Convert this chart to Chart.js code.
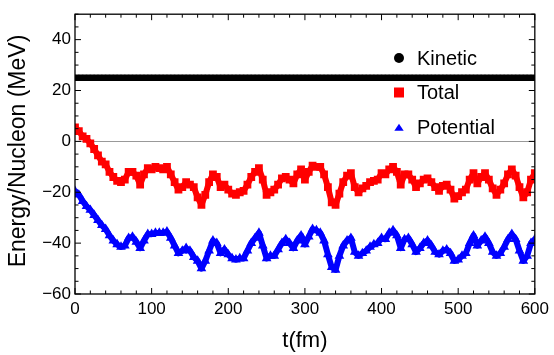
<!DOCTYPE html>
<html>
<head>
<meta charset="utf-8">
<title>Energy per nucleon vs time</title>
<script src="https://cdn.jsdelivr.net/npm/chart.js@4/dist/chart.umd.min.js"></script>
<style>
  html, body { margin: 0; padding: 0; background: #fff; }
  #wrap { width: 554px; height: 355px; }
</style>
</head>
<body>
<div id="wrap"><canvas id="chart" width="554" height="355"></canvas></div>
<script>
// time samples (fm)
const times = [
  0, 5, 10, 15, 20, 25, 30, 35, 40, 45, 50, 55, 60, 65, 70, 75, 80, 85, 90, 95,
  100, 105, 110, 115, 120, 125, 130, 135, 140, 145, 150, 155, 160, 165, 170, 175, 180, 185, 190, 195,
  200, 205, 210, 215, 220, 225, 230, 235, 240, 245, 250, 255, 260, 265, 270, 275, 280, 285, 290, 295,
  300, 305, 310, 315, 320, 325, 330, 335, 340, 345, 350, 355, 360, 365, 370, 375, 380, 385, 390, 395,
  400, 405, 410, 415, 420, 425, 430, 435, 440, 445, 450, 455, 460, 465, 470, 475, 480, 485, 490, 495,
  500, 505, 510, 515, 520, 525, 530, 535, 540, 545, 550, 555, 560, 565, 570, 575, 580, 585, 590, 595,
  600
];

// energy per nucleon (MeV)
const kinetic = [
  25, 25, 25, 25, 25, 25, 25, 25, 25, 25, 25, 25, 25, 25, 25, 25, 25, 25, 25, 25,
  25, 25, 25, 25, 25, 25, 25, 25, 25, 25, 25, 25, 25, 25, 25, 25, 25, 25, 25, 25,
  25, 25, 25, 25, 25, 25, 25, 25, 25, 25, 25, 25, 25, 25, 25, 25, 25, 25, 25, 25,
  25, 25, 25, 25, 25, 25, 25, 25, 25, 25, 25, 25, 25, 25, 25, 25, 25, 25, 25, 25,
  25, 25, 25, 25, 25, 25, 25, 25, 25, 25, 25, 25, 25, 25, 25, 25, 25, 25, 25, 25,
  25, 25, 25, 25, 25, 25, 25, 25, 25, 25, 25, 25, 25, 25, 25, 25, 25, 25, 25, 25,
  25
];

const total = [
  5.5, 4, 2, 1, -0.8, -3, -5.5, -8, -9, -12, -14, -15.5, -16, -15, -12, -12, -13.5, -17, -13, -10.5,
  -11, -10, -10.5, -11, -10, -13, -16, -19, -18, -16, -17, -18, -22, -25, -21, -16, -13, -14, -18, -17,
  -19, -20.5, -21, -20, -19.5, -17, -14, -12, -10.5, -15, -21, -20, -19, -17, -14.5, -14, -15, -16.5, -13, -11,
  -15, -12, -9.5, -10, -10, -13, -18, -24, -25, -20.5, -16, -13.5, -12.5, -18, -20, -18.5, -17.5, -16, -15.5, -15,
  -12.5, -13, -11, -10, -12, -17, -13, -13, -15, -18, -16.5, -15, -14.5, -16, -18, -19.5, -17.5, -17, -19, -22.5,
  -21.5, -20, -19, -15, -12.5, -16.5, -14, -12.5, -15, -18.5, -21, -19, -16.5, -13, -11, -13.5, -18, -22, -20, -15,
  -12.5
];

const potential = [
  -19.5, -21, -23.5, -25.5, -27, -29, -31, -33, -34.5, -37, -39, -40.5, -41.5, -41, -38, -37.5, -39.5, -42, -39, -36.5,
  -36.5, -36, -36, -36, -35.5, -38, -41, -44, -43, -42, -43, -45.5, -47, -50, -47, -43, -39, -40, -44, -42.5,
  -44.5, -46, -46.5, -46, -46, -43, -40, -38, -36, -41, -46, -45, -45, -42.5, -40, -38.5, -40, -42, -39, -37,
  -40.5, -37.5, -34.5, -35, -36, -39, -44.5, -49.5, -50.5, -45, -41, -39, -38, -43.5, -45, -44, -43, -41.5, -40.5, -40,
  -38, -38.5, -36, -35, -37, -42, -38.5, -38, -40.5, -43.5, -42, -40, -39, -41, -43.5, -44.5, -43, -42.5, -44, -47,
  -46.5, -45, -44, -40, -37, -41, -39, -37.5, -40, -43.5, -45, -44, -41.5, -38.5, -36.5, -38.5, -43, -47, -45, -40,
  -38.5
];

const seriesNames = ['Kinetic', 'Total', 'Potential'];
const xTickValues = [0, 100, 200, 300, 400, 500, 600];
const yTickValues = [-60, -40, -20, 0, 20, 40];

const FONT = '"Liberation Sans", Arial, Helvetica, sans-serif';

function pts(ys) { return times.map((t, i) => ({ x: t, y: ys[i] })); }
function minus(v) { return String(v).replace('-', '\u2212'); }

// frame with inward major/minor ticks, zero line, legend and axis titles
const decor = {
  id: 'decor',
  beforeDatasetsDraw(chart) {
    const { ctx, chartArea: a, scales: { y } } = chart;
    const y0 = Math.round(y.getPixelForValue(0)) + 0.5;
    ctx.save();
    ctx.strokeStyle = '#999';
    ctx.lineWidth = 1;
    ctx.beginPath();
    ctx.moveTo(a.left, y0);
    ctx.lineTo(a.right, y0);
    ctx.stroke();
    ctx.restore();
  },
  afterDatasetsDraw(chart) {
    const { ctx, chartArea: a, scales: { x, y } } = chart;
    ctx.save();
    ctx.strokeStyle = '#000';
    ctx.lineWidth = 1.3;
    ctx.strokeRect(a.left, a.top, a.right - a.left, a.bottom - a.top);

    ctx.lineWidth = 1;
    ctx.beginPath();
    for (let v = 0; v <= 600; v += 20) {
      const px = x.getPixelForValue(v);
      const len = v % 100 === 0 ? 6 : 3.5;
      ctx.moveTo(px, a.bottom); ctx.lineTo(px, a.bottom - len);
      ctx.moveTo(px, a.top); ctx.lineTo(px, a.top + len);
    }
    for (let v = -60; v <= 50; v += 5) {
      const py = y.getPixelForValue(v);
      const len = v % 20 === 0 ? 6 : 3.5;
      ctx.moveTo(a.left, py); ctx.lineTo(a.left + len, py);
      ctx.moveTo(a.right, py); ctx.lineTo(a.right - len, py);
    }
    ctx.stroke();

    // legend
    const lx = 399, tx = 417;
    const rows = [58, 92.5, 127.5];
    ctx.font = '20px ' + FONT;
    ctx.textBaseline = 'middle';
    ctx.textAlign = 'left';
    chart.data.datasets.forEach((ds, i) => {
      const cy = rows[i];
      ctx.fillStyle = ds.backgroundColor;
      ctx.beginPath();
      if (ds.pointStyle === 'circle') {
        ctx.arc(lx, cy, 5, 0, Math.PI * 2);
      } else if (ds.pointStyle === 'rect') {
        ctx.rect(lx - 5, cy - 5, 10, 10);
      } else {
        ctx.moveTo(lx - 4.7, cy + 3.3);
        ctx.lineTo(lx + 4.7, cy + 3.3);
        ctx.lineTo(lx, cy - 3.8);
        ctx.closePath();
      }
      ctx.fill();
      ctx.fillStyle = '#000';
      ctx.fillText(ds.label, tx, cy + 1);
    });

    // axis titles
    ctx.font = '22px ' + FONT;
    ctx.textAlign = 'center';
    ctx.textBaseline = 'middle';
    ctx.fillText('t(fm)', (a.left + a.right) / 2, 341);
    ctx.font = '23px ' + FONT;
    ctx.translate(19, 151);
    ctx.rotate(-Math.PI / 2);
    ctx.fillText('Energy/Nucleon (MeV)', 0, 0);
    ctx.restore();
  }
};

const colors = ['#000000', '#ff0000', '#0000ff'];
const styles = ['circle', 'rect', 'triangle'];
const radii = [3, 5.5, 5.6];
const lineWidths = [6.5, 6, 6];
const values = [kinetic, total, potential];

new Chart(document.getElementById('chart'), {
  type: 'scatter',
  data: {
    datasets: values.map((ys, i) => ({
      label: seriesNames[i],
      data: pts(ys),
      showLine: true,
      borderColor: colors[i],
      backgroundColor: colors[i],
      borderWidth: lineWidths[i],
      borderJoinStyle: 'round',
      pointStyle: styles[i],
      pointRadius: radii[i],
      pointBorderWidth: 0,
      pointHoverRadius: radii[i],
      clip: 0
    }))
  },
  options: {
    responsive: false,
    animation: false,
    devicePixelRatio: 1,
    layout: { padding: { left: 0, top: 9, right: 17, bottom: 0 } },
    plugins: { legend: { display: false }, tooltip: { enabled: false } },
    scales: {
      x: {
        type: 'linear',
        min: 0, max: 600,
        grid: { display: false, drawTicks: false },
        border: { display: false },
        afterFit(s) { s.height = 61; },
        afterBuildTicks(s) { s.ticks = xTickValues.map(v => ({ value: v })); },
        ticks: {
          padding: 5,
          maxRotation: 0,
          color: '#000',
          font: { family: FONT, size: 17 },
          callback: v => minus(v)
        }
      },
      y: {
        type: 'linear',
        min: -60, max: 50,
        grid: { display: false, drawTicks: false },
        border: { display: false },
        afterFit(s) { s.width = 75; },
        afterBuildTicks(s) { s.ticks = yTickValues.map(v => ({ value: v })); },
        ticks: {
          padding: 4,
          color: '#000',
          font: { family: FONT, size: 17 },
          callback: v => minus(v)
        }
      }
    }
  },
  plugins: [decor]
});
</script>
</body>
</html>
